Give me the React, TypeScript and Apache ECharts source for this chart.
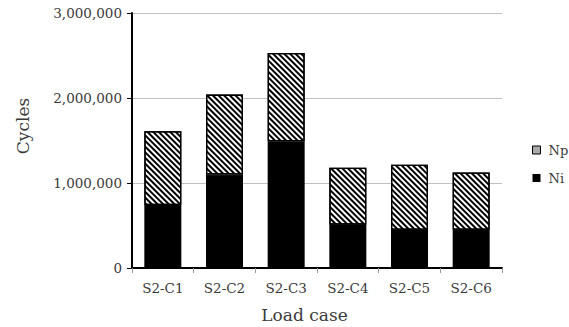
import React, { useEffect, useRef } from "react";
import * as echarts from "echarts";

const categories = ["S2-C1", "S2-C2", "S2-C3", "S2-C4", "S2-C5", "S2-C6"];
const niValues = [740000, 1100000, 1490000, 510000, 450000, 450000];
const npValues = [870000, 940000, 1040000, 670000, 765000, 675000];
const yTicks = [0, 1000000, 2000000, 3000000];

const FONT = "DejaVu Serif";
const TEXT = "#3a3a3a";

export default function App() {
  const ref = useRef<HTMLDivElement>(null);
  useEffect(() => {
    if (!ref.current) return;
    const chart = echarts.init(ref.current, undefined, { renderer: "svg" });
    const stripe = {
      symbol: "rect",
      symbolSize: 1,
      color: "#000",
      dashArrayX: [1, 0],
      dashArrayY: [1.2, 2.0],
      rotation: Math.PI / 4,
    };
    chart.setOption({
      animation: false,
      backgroundColor: "#fff",
      textStyle: { fontFamily: FONT, color: TEXT },
      grid: { left: 132, right: 67, top: 13, bottom: 59, containLabel: false },
      legend: {
        orient: "vertical",
        left: 527,
        top: 138,
        itemWidth: 8,
        itemHeight: 8,
        itemGap: 14,
        icon: "rect",
        textStyle: { fontFamily: FONT, fontSize: 13, color: TEXT, lineHeight: 14, padding: [0, 0, 0, 3] },
        data: [
          { name: "Np", itemStyle: { color: "#aaa", borderColor: "#000", borderWidth: 1, decal: "none" } },
          { name: "Ni", itemStyle: { color: "#000", borderWidth: 0 } },
        ],
      },
      xAxis: {
        type: "category",
        data: categories,
        boundaryGap: true,
        axisLine: { lineStyle: { color: "#000", width: 2 } },
        axisTick: { show: true, length: 5, lineStyle: { color: "#999", width: 1 } },
        axisLabel: { fontFamily: FONT, fontSize: 13.5, color: TEXT, margin: 13 },
      },
      yAxis: {
        type: "value",
        min: yTicks[0],
        max: yTicks[yTicks.length - 1],
        interval: yTicks[1] - yTicks[0],
        axisLine: { show: true, lineStyle: { color: "#000", width: 2 } },
        axisTick: { show: true, length: 5, lineStyle: { color: "#000", width: 1 } },
        splitLine: { show: true, lineStyle: { color: "#c0c0c0", width: 1 } },
        axisLabel: {
          fontFamily: FONT,
          fontSize: 13.5,
          color: TEXT,
          margin: 10,
          formatter: (v: number) => v.toLocaleString("en-US"),
        },
      },
      graphic: [
        {
          type: "text",
          x: 22.5,
          y: 126,
          rotation: Math.PI / 2,
          style: { text: "Cycles", font: `17px "${FONT}"`, fill: TEXT, align: "center", verticalAlign: "middle" },
        },
        {
          type: "text",
          x: 304.5,
          y: 315,
          style: { text: "Load case", font: `17px "${FONT}"`, fill: TEXT, align: "center", verticalAlign: "middle" },
        },
      ],
      series: [
        {
          name: "Ni",
          type: "bar",
          stack: "total",
          barWidth: 37,
          data: niValues,
          itemStyle: { color: "#000", borderColor: "#000", borderWidth: 1.3 },
        },
        {
          name: "Np",
          type: "bar",
          stack: "total",
          barWidth: 37,
          data: npValues,
          itemStyle: { color: "#fff", borderColor: "#000", borderWidth: 1.3, decal: stripe },
        },
      ],
    });
    return () => chart.dispose();
  }, []);
  return <div ref={ref} style={{ position: "absolute", left: 0, top: 0, width: 569, height: 327 }} />;
}
